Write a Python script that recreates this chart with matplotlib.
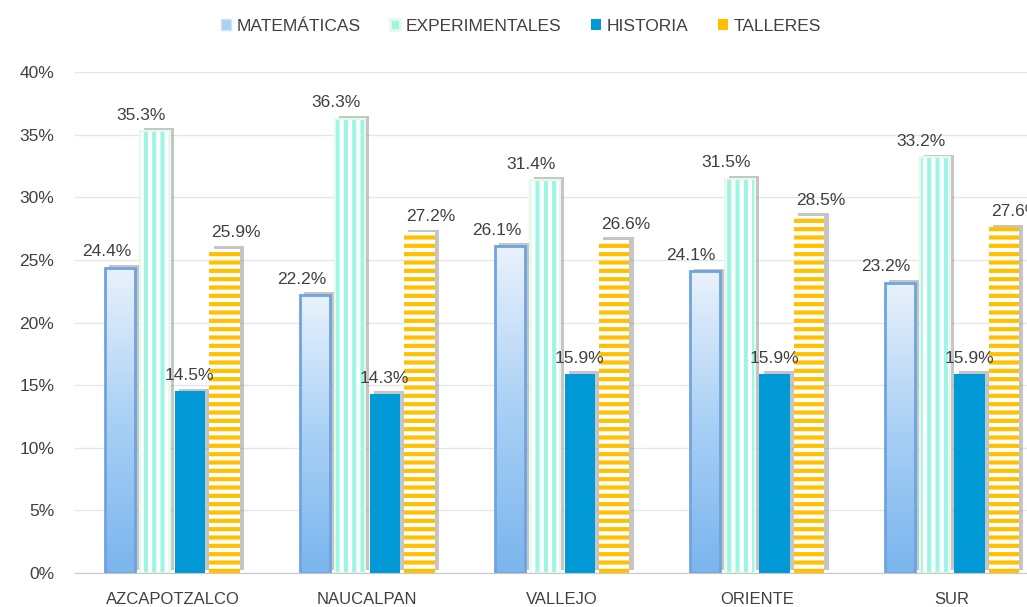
import numpy as np
import matplotlib
matplotlib.use('Agg')
import matplotlib.pyplot as plt
import matplotlib.patheffects as pe
from matplotlib.patches import Patch

plt.rcParams['font.family'] = ['Liberation Sans', 'DejaVu Sans']
plt.rcParams['hatch.linewidth'] = 3.0

# data
planteles = ['AZCAPOTZALCO', 'NAUCALPAN', 'VALLEJO', 'ORIENTE', 'SUR']
series = ['MATEMÁTICAS', 'EXPERIMENTALES', 'HISTORIA', 'TALLERES']
matematicas = [24.4, 22.2, 26.1, 24.1, 23.2]
experimentales = [35.3, 36.3, 31.4, 31.5, 33.2]
historia = [14.5, 14.3, 15.9, 15.9, 15.9]
talleres = [25.9, 27.2, 26.6, 28.5, 27.6]

txt = '#404040'
fig = plt.figure(figsize=(10.27, 6.07), dpi=100)
ax = fig.add_axes([0.073, 0.056, 0.949, 0.825])

x = np.arange(len(planteles))
w = 0.155
offs = [-1.5, -0.5, 0.5, 1.5]
step = 0.178

shadow = [pe.SimplePatchShadow(offset=(3, 2), shadow_rgbFace='#8c8c8c', alpha=0.5), pe.Normal()]

# MATEMATICAS: gradient bars
xm = x + offs[0] * step
ax.bar(xm, matematicas, w, color='white', zorder=2, path_effects=shadow)
grad = np.linspace(0, 1, 256).reshape(-1, 1)
cmap = matplotlib.colors.LinearSegmentedColormap.from_list('g', ['#7ab5ee', '#a9d0f5', '#e9f2fc'])
for xi, v in zip(xm, matematicas):
    ax.imshow(grad, cmap=cmap, extent=(xi - w / 2, xi + w / 2, 0, v), origin='lower',
              aspect='auto', zorder=3)
ax.bar(xm, matematicas, w, facecolor='none', edgecolor='#6fa3e0', linewidth=2, zorder=4)

# EXPERIMENTALES: vertical stripes
xe = x + offs[1] * step
ax.bar(xe, experimentales, w, color='white', zorder=2, path_effects=shadow)
ax.bar(xe, experimentales, w, facecolor='none', edgecolor='#9ff5e4', hatch='||', linewidth=0, zorder=3)
ax.bar(xe, experimentales, w, facecolor='none', edgecolor='#e4fbe8', linewidth=1.5, zorder=4)

# HISTORIA: solid
xh = x + offs[2] * step
ax.bar(xh, historia, w, color='#0099d6', zorder=3, path_effects=shadow)

# TALLERES: horizontal stripes
xt = x + offs[3] * step
ax.bar(xt, talleres, w, color='white', zorder=2, path_effects=shadow)
ax.bar(xt, talleres, w, facecolor='none', edgecolor='#ffc000', hatch='--', linewidth=0, zorder=3)

# labels
for xs, vals, dx in [(xm, matematicas, -10), (xe, experimentales, -10), (xh, historia, 0), (xt, talleres, 8)]:
    for xi, v in zip(xs, vals):
        ax.annotate(f'{v:.1f}%', (xi, v), xytext=(dx, 6), textcoords='offset points',
                    ha='center', va='bottom', fontsize=12.5, color=txt, zorder=6)

ax.set_ylim(0, 40)
ax.set_xlim(-0.5, 4.5)
ax.set_yticks(range(0, 41, 5))
ax.set_yticklabels([f'{t}%' for t in range(0, 41, 5)])
ax.set_xticks(x)
ax.set_xticklabels(planteles)
ax.tick_params(axis='both', length=0, labelsize=12.5, labelcolor=txt)
ax.tick_params(axis='x', labelsize=12)
ax.tick_params(axis='y', pad=15)
ax.tick_params(axis='x', pad=14)
ax.grid(axis='y', color='#e6e6e6', linewidth=1, zorder=0)
ax.set_axisbelow(True)
for s in ['left', 'right', 'top']:
    ax.spines[s].set_visible(False)
ax.spines['bottom'].set_color('#c8c8c8')
ax.spines['bottom'].set_zorder(5)

handles = [Patch(facecolor='#a9d0f5', edgecolor='#cfe3f8'),
           Patch(facecolor='#9ff5e4', edgecolor='#e4fbe8', linewidth=2),
           Patch(facecolor='#0099d6'),
           Patch(facecolor='#ffc000')]
leg = fig.legend(handles, series, loc='center', bbox_to_anchor=(0.507, 0.957), ncol=4, frameon=False,
                 fontsize=12.5, handlelength=0.6, handleheight=0.6, handletextpad=0.3, columnspacing=1.7)
for t in leg.get_texts():
    t.set_color(txt)

fig.savefig('out.png', dpi=100)
